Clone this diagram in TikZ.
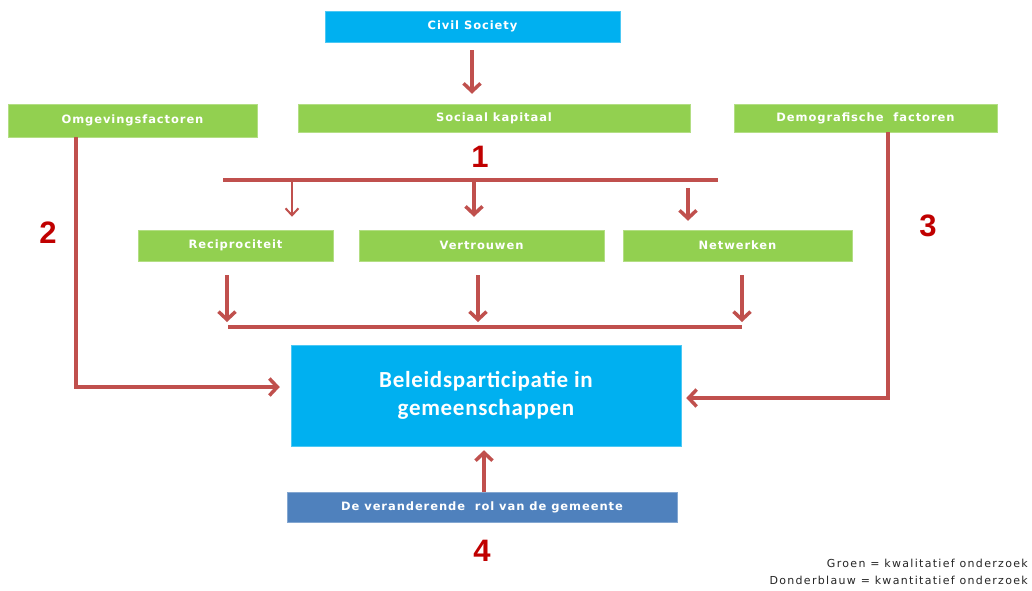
\documentclass[tikz,border=0pt]{standalone}
\usepackage{fontspec}
\setmainfont{DejaVu Sans}
\newfontfamily\boxfont{DejaVu Sans}[LetterSpace=8]
\newfontfamily\legfont{DejaVu Sans}[LetterSpace=12]
\newfontfamily\bigboxfont{Carlito}[LetterSpace=3]
\newfontfamily\numfont{Liberation Sans}
\usetikzlibrary{arrows.meta}
\definecolor{cyanbox}{HTML}{00B0F0}
\definecolor{greenbox}{HTML}{92D050}
\definecolor{bluebox}{HTML}{4F81BD}
\definecolor{arrowred}{HTML}{C0504D}
\definecolor{numred}{HTML}{C00000}
\begin{document}
\begin{tikzpicture}[x=1pt,y=-1pt,
  box/.style={inner sep=0pt, text=white, font=\boxfont\bfseries\fontsize{11.5}{13}\selectfont},
  gbox/.style={box, fill=greenbox, draw=greenbox!70!white, line width=0.5pt},
  cbox/.style={box, fill=cyanbox, draw=cyanbox!70!white, line width=0.5pt},
  bbox/.style={box, fill=bluebox, draw=bluebox!70!white, line width=0.5pt},
  arr/.style={draw=arrowred, line width=3.5pt, -{Straight Barb[length=8pt,width=17pt]}},
  thinarr/.style={draw=arrowred, line width=2pt, -{Straight Barb[length=7pt,width=13pt]}},
  bar/.style={draw=arrowred, line width=3.5pt},
  num/.style={text=numred, font=\numfont\bfseries\fontsize{31}{31}\selectfont, inner sep=0pt},
  legend/.style={font=\legfont\fontsize{11}{12}\selectfont, text=black!85, inner sep=0pt, anchor=east}
]
\useasboundingbox[fill=white] (0,0) rectangle (1032,590);

% boxes
\node[cbox, minimum width=295pt, minimum height=31pt] (civil) at (472.5,26.5) {Civil Society};
\node[gbox, minimum width=392pt, minimum height=28pt] (sociaal) at (494,118) {Sociaal kapitaal};
\node[gbox, minimum width=249pt, minimum height=33pt] (omg) at (132.5,120.5) {Omgevingsfactoren};
\node[gbox, minimum width=263pt, minimum height=28pt] (demo) at (865.5,118) {Demografische\ \ factoren};
\node[gbox, minimum width=195pt, minimum height=31pt] (rec) at (235.5,245.5) {Reciprociteit};
\node[gbox, minimum width=245pt, minimum height=31pt] (ver) at (481.5,245.5) {Vertrouwen};
\node[gbox, minimum width=229pt, minimum height=31pt] (net) at (737.5,245.5) {Netwerken};
\node[cbox, minimum width=390pt, minimum height=101pt, align=center,
  font=\bigboxfont\bfseries\fontsize{23}{28}\selectfont] (main) at (486,395.5)
  {Beleidsparticipatie in\\gemeenschappen};
\node[bbox, minimum width=390pt, minimum height=30pt] (rol) at (482,507) {De veranderende\ \ rol van de gemeente};

% numbers
\node[num] (n1) at (480,157) {1};
\node[num] (n2) at (48,233) {2};
\node[num] (n3) at (928,226) {3};
\node[num] (n4) at (482,551) {4};

% legend
\node[legend] (leg1) at (1028,563) {Groen = kwalitatief onderzoek};
\node[legend] (leg2) at (1028,580) {Donderblauw = kwantitatief onderzoek};

% connectors
\coordinate (c1a) at (472,50);
\draw[arr, shorten >=10pt] (c1a) -- (c1a |- sociaal.north);

\coordinate (hL) at (223,180);
\coordinate (hR) at (718,180);
\draw[bar] (hL) -- (hR);
\coordinate (b1) at (292,180);
\coordinate (b2) at (474,180);
\coordinate (b3) at (688,188);
\draw[thinarr, shorten >=13pt] (b1) -- (b1 |- rec.north);
\draw[arr, shorten >=13pt] (b2) -- (b2 |- ver.north);
\draw[arr, shorten >=9pt] (b3) -- (b3 |- net.north);

\coordinate (d1) at (227,275);
\coordinate (d2) at (478,275);
\coordinate (d3) at (742,275);
\coordinate (lL) at (228,327);
\coordinate (lR) at (742,327);
\draw[arr] (d1) -- (227,322);
\draw[arr] (d2) -- (478,322);
\draw[arr] (d3) -- (742,322);
\draw[bar] (lL) -- (lR);

\coordinate (omgturn) at (76,387);
\draw[arr, shorten >=11pt] (omg.south -| omgturn) -- (omgturn) -- (omgturn -| main.west);
\coordinate (demoturn) at (888,398);
\draw[arr, shorten >=5pt] (demo.south -| demoturn) -- (demoturn) -- (demoturn -| main.east);

\coordinate (rolup) at (484,492);
\draw[arr, shorten >=4pt] (rolup) -- (rolup |- main.south);
\end{tikzpicture}
\end{document}
